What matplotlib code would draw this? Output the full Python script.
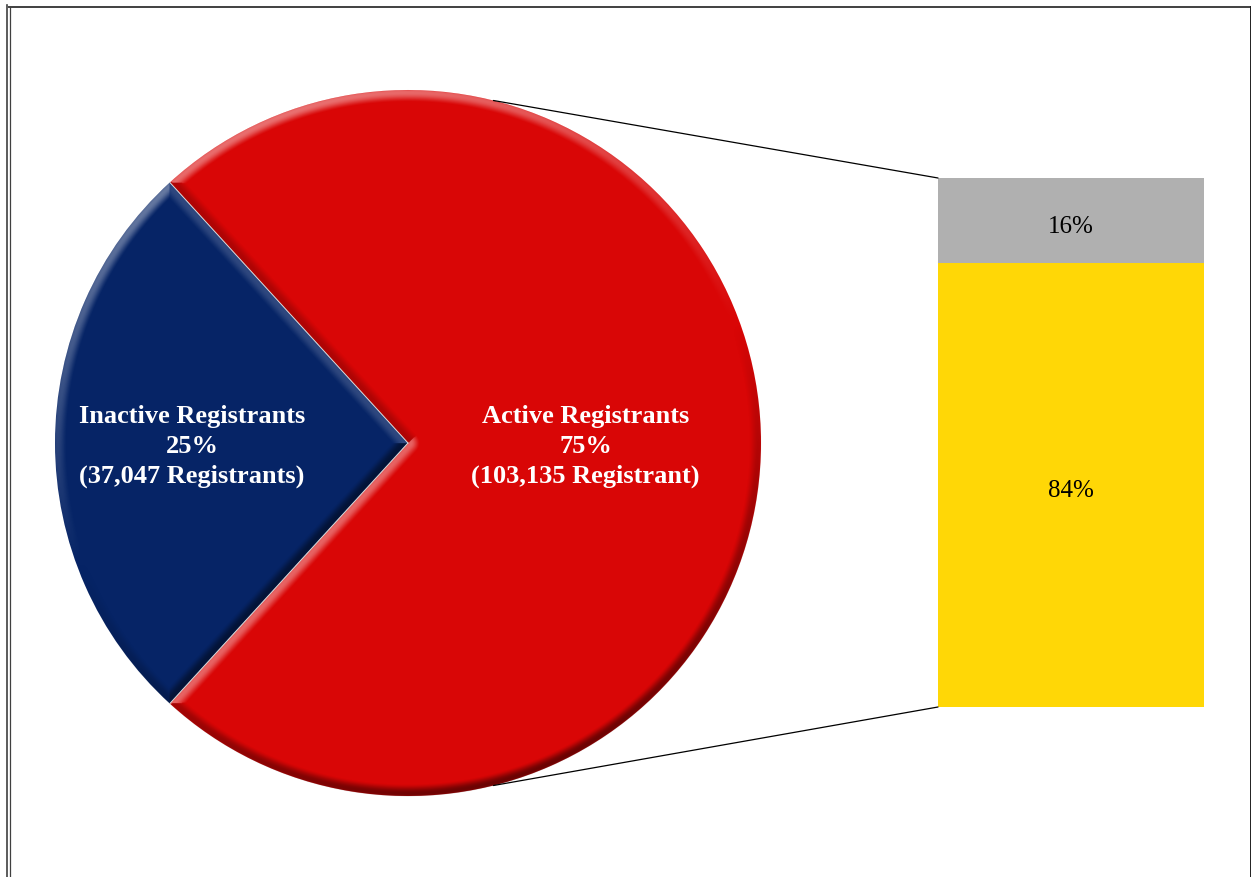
import numpy as np
import matplotlib.pyplot as plt
from matplotlib.patches import ConnectionPatch
from matplotlib.lines import Line2D

# registrant counts for the pie
pie_labels = ['Active Registrants', 'Inactive Registrants']
pie_counts = [103135, 37047]
pie_pct_text = ['75%', '25%']
pie_count_text = ['(103,135 Registrant)', '(37,047 Registrants)']
pie_colors = ['#d90606', '#062466']

# breakdown shown in the stacked bar (bottom to top)
bar_values = [84, 16]
bar_colors = ['#ffd706', '#b0b0b0']

W, H = 1251, 877
plt.rcParams['font.family'] = ['Liberation Serif', 'DejaVu Serif']
fig = plt.figure(figsize=(W / 100, H / 100), dpi=100)

# pie axes, centre (408, 443) px, radius 353 px
lim = 1.05
r_px = 353
cx, cy = 408, 443
half = r_px * lim
ax_pie = fig.add_axes([(cx - half) / W, (H - cy - half) / H, 2 * half / W, 2 * half / H])

share = np.array(pie_counts) / sum(pie_counts)
start = 180 + share[1] * 180
wedges, _ = ax_pie.pie(pie_counts, colors=pie_colors, startangle=start,
                       radius=1, wedgeprops=dict(edgecolor='none'))
ax_pie.set_xlim(-lim, lim)
ax_pie.set_ylim(-lim, lim)
ax_pie.set_aspect('equal')
ax_pie.axis('off')

# bevel shading laid over the wedges
n = 1400
xs = np.linspace(-lim, lim, n)
X, Y = np.meshgrid(xs, xs[::-1])
R = np.hypot(X, Y) + 1e-9
T = np.degrees(np.arctan2(Y, X)) % 360
px = 2 * lim / n
bw = 0.034
Lx, Ly = np.cos(np.radians(110)), np.sin(np.radians(110))
shade = np.zeros_like(R)
for w in wedges:
    t1, t2 = w.theta1, w.theta2
    inside = ((T - t1) % 360) <= (t2 - t1)
    best = 1 - R
    nx, ny = X / R, Y / R
    for ang, sgn in ((t1, -1), (t2, 1)):
        ux, uy = np.cos(np.radians(ang)), np.sin(np.radians(ang))
        proj = np.clip(X * ux + Y * uy, 0, 1)
        d = np.hypot(X - proj * ux, Y - proj * uy)
        a = np.radians(ang + sgn * 90)
        closer = d < best
        best = np.where(closer, d, best)
        nx = np.where(closer, np.cos(a), nx)
        ny = np.where(closer, np.sin(a), ny)
    # rounded bevel: strongest a little inside the rim
    u = np.clip(best / bw, 0, 1)
    prof = np.where(u < 1, np.sin(np.pi * (0.25 + 0.75 * u)) * (1 - u) ** 0.5, 0)
    shade = np.where(inside, prof * (nx * Lx + ny * Ly), shade)

edge_alpha = np.clip((1 - R) / px + 0.5, 0, 1)
rgba = np.zeros((n, n, 4))
rgba[..., :3] = np.where(shade[..., None] > 0, 1.0, 0.0)
rgba[..., 3] = np.clip(np.abs(shade) * np.where(shade > 0, 0.5, 0.6), 0, 1) * edge_alpha
ax_pie.imshow(rgba, extent=(-lim, lim, -lim, lim), zorder=3)

# thin light seams between the slices
for w in wedges:
    a = np.radians(w.theta1)
    ax_pie.plot([0, np.cos(a)], [0, np.sin(a)], color='#d8d8d8', lw=0.7, zorder=4)

# slice labels
dists = [0.503, 0.612]
for w, lab, pct, cnt, dist in zip(wedges, pie_labels, pie_pct_text, pie_count_text, dists):
    mid = np.radians((w.theta1 + w.theta2) / 2)
    ax_pie.text(dist * np.cos(mid), dist * np.sin(mid) - 0.01, f'{lab}\n{pct}\n{cnt}',
                ha='center', va='center', color='white', fontsize=19,
                fontweight='bold', linespacing=1.38, zorder=5)

# stacked bar
bx0, bx1, by0, by1 = 938, 1204, 178, 707
ax_bar = fig.add_axes([bx0 / W, (H - by1) / H, (bx1 - bx0) / W, (by1 - by0) / H])
bottom = 0
for v, c in zip(bar_values, bar_colors):
    ax_bar.bar(0.5, v, width=1.0, bottom=bottom, color=c, edgecolor='none')
    ax_bar.annotate(f'{v}%', (0.5, bottom + v / 2), xytext=(0, -3),
                    textcoords='offset points', ha='center', va='center_baseline',
                    fontsize=18, color='black')
    bottom += v
ax_bar.set_xlim(0, 1)
ax_bar.set_ylim(0, sum(bar_values))
ax_bar.axis('off')

# connector lines from the pie to the bar
for sgn, ytop in ((1, sum(bar_values)), (-1, 0)):
    a = np.radians(sgn * 76)
    con = ConnectionPatch(xyA=(np.cos(a), np.sin(a)), coordsA=ax_pie.transData,
                          xyB=(0, ytop), coordsB=ax_bar.transData,
                          color='black', lw=0.9)
    fig.add_artist(con)

# page frame
def fline(xp, yp, lw=1.2, color='#404040'):
    fig.add_artist(Line2D([x / W for x in xp], [1 - y / H for y in yp],
                          color=color, lw=lw, transform=fig.transFigure))

fline([6.5, 6.5], [5, 877])
fline([9.5, 9.5], [6.5, 877], lw=0.9)
fline([9, 1250.5], [6.5, 6.5], lw=1.4)
fline([1250.5, 1250.5], [6.5, 877], lw=1.4, color='#202020')

fig.savefig('out.png', dpi=100)
